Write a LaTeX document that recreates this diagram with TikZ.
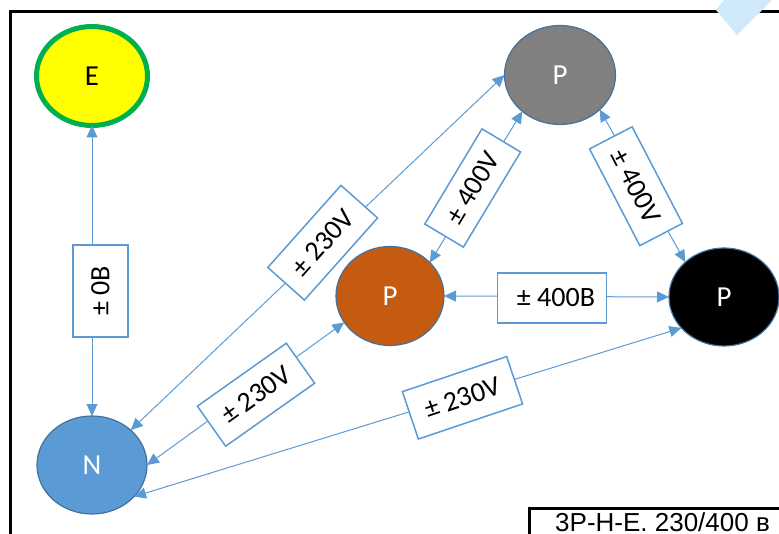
\documentclass[tikz,border=0pt]{standalone}
\usepackage{fontspec}
\setmainfont{Carlito}
\newfontfamily\arialfont{Liberation Sans}
\usetikzlibrary{arrows.meta,shapes.geometric}
\definecolor{linkblue}{HTML}{5B9BD5}
\definecolor{rimblue}{HTML}{41719C}
\definecolor{eyellow}{HTML}{FFFF00}
\definecolor{egreen}{HTML}{00B050}
\definecolor{pgray}{HTML}{808080}
\definecolor{porange}{HTML}{C55A11}
\definecolor{nblue}{HTML}{5B9BD5}
\definecolor{markblue}{HTML}{CFEAFA}
\begin{document}
\begin{tikzpicture}[x=1pt,y=-1pt,
  phase/.style={ellipse, draw=rimblue, line width=1.2pt, inner sep=0pt, outer sep=0pt,
    font=\fontsize{29}{32}\selectfont, text=white},
  link/.style={draw=linkblue, line width=1pt,
    {Triangle[length=12pt,width=11pt]}-{Triangle[length=12pt,width=11pt]}},
  tag/.style={draw=linkblue, line width=1.5pt, fill=white, inner sep=0pt,
    font=\fontsize{28}{31}\selectfont}]
\useasboundingbox (0,0) rectangle (779,534);
% frame
\draw[line width=3pt] (10,545) -- (10,12) -- (790,12);
\fill[markblue] (724,0) -- (716,10) -- (737,35) -- (772,0) -- cycle;
% phases
\node[phase, fill=eyellow, draw=egreen, line width=5pt, text=black,
  minimum width=111pt, minimum height=99pt] (E) at (92,76) {E};
\node[phase, fill=pgray, minimum width=111pt, minimum height=99pt] (PA) at (560,75) {P};
\node[phase, fill=porange, minimum width=108pt, minimum height=99pt] (PB) at (390,296) {P};
\node[phase, fill=black, minimum width=110pt, minimum height=98pt] (PC) at (724,297) {P};
\node[phase, fill=nblue, minimum width=110pt, minimum height=98pt] (N) at (92,465) {N};
% connectors
\draw[link] (E.south) -- (N.north);
\draw[link] (N.42) -- (PA.west);
\draw[link] (N.east) -- (PB.210);
\draw[link] (N.-37) -- (PC.216);
\draw[link] (PB.40) -- (PA.224);
\draw[link] (PA.-41) -- (PC.138);
\draw[link] (PB.east) -- (PC.west);
% labels
\node[tag, rotate=90, minimum width=92pt, minimum height=55pt] (L0) at (100.5,291) {± 0В};
\node[tag, rotate=48.3, minimum width=110pt, minimum height=49pt] (L1) at (322.7,242.7) {± 230V};
\node[tag, rotate=59, minimum width=111pt, minimum height=45pt] (L2) at (472.7,188) {± 400V};
\node[tag, rotate=-62.5, minimum width=109pt, minimum height=48pt] (L3) at (636,186.2) {± 400V};
\node[tag, minimum width=109pt, minimum height=50pt] (L4) at (552,298) {\hspace*{8pt}± 400В};
\node[tag, rotate=35.3, minimum width=109pt, minimum height=49pt] (L5) at (256,394.7) {± 230V};
\node[tag, rotate=18.6, minimum width=110pt, minimum height=50pt] (L6) at (462.5,397.8) {± 230V};
% caption box
\draw[line width=3pt] (529,508) rectangle (800,560);
\node[anchor=base west, inner sep=0pt, font=\arialfont\fontsize{26}{28}\selectfont] (cap) at (555,531.5) {3P-H-E. 230/400 в};
\end{tikzpicture}
\end{document}
